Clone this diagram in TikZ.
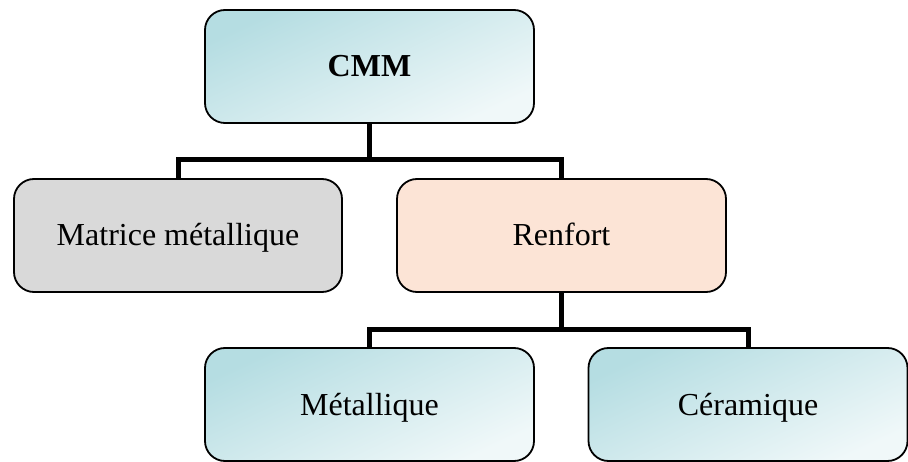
\documentclass[tikz,border=0pt]{standalone}
\usepackage{fontspec}
\setmainfont{Liberation Serif}
\definecolor{tealdark}{HTML}{B5DDE2}
\definecolor{teallight}{HTML}{F0F8F9}
\definecolor{grayfill}{HTML}{D9D9D9}
\definecolor{peachfill}{HTML}{FCE4D6}
\tikzset{
  boxbase/.style={draw=black, line width=1.8pt, rounded corners=20pt, inner sep=0pt,
    font=\fontsize{32}{38}\selectfont, text=black, text height=21pt, text depth=0pt},
  tealbox/.style={boxbase, top color=tealdark, bottom color=teallight, shading angle=25},
  graybox/.style={boxbase, fill=grayfill},
  peachbox/.style={boxbase, fill=peachfill},
  conn/.style={line width=5pt, line join=miter, draw=black}
}
\begin{document}
\begin{tikzpicture}[x=1pt,y=-1pt]
\useasboundingbox (0,0) rectangle (908,462);
\node[tealbox, minimum width=329pt, minimum height=113pt] (cmm) at (369.5,66.5) {\textbf{CMM}};
\node[graybox, minimum width=328pt, minimum height=113pt] (mat) at (178,235.5) {Matrice métallique};
\node[peachbox, minimum width=329pt, minimum height=113pt] (ren) at (561.5,235.5) {Renfort};
\node[tealbox, minimum width=329pt, minimum height=113pt] (met) at (369.5,404.5) {Métallique};
\node[tealbox, minimum width=319pt, minimum height=113pt] (cer) at (748,404.5) {Céramique};
\coordinate (j1) at (369.5,160);
\coordinate (j2) at (561.5,330);
\draw[conn] (cmm.south) -- (j1);
\draw[conn] (mat.north) |- (j1) -| (ren.north);
\draw[conn] (ren.south) -- (j2);
\draw[conn] (met.north) |- (j2) -| (cer.north);
\end{tikzpicture}
\end{document}
